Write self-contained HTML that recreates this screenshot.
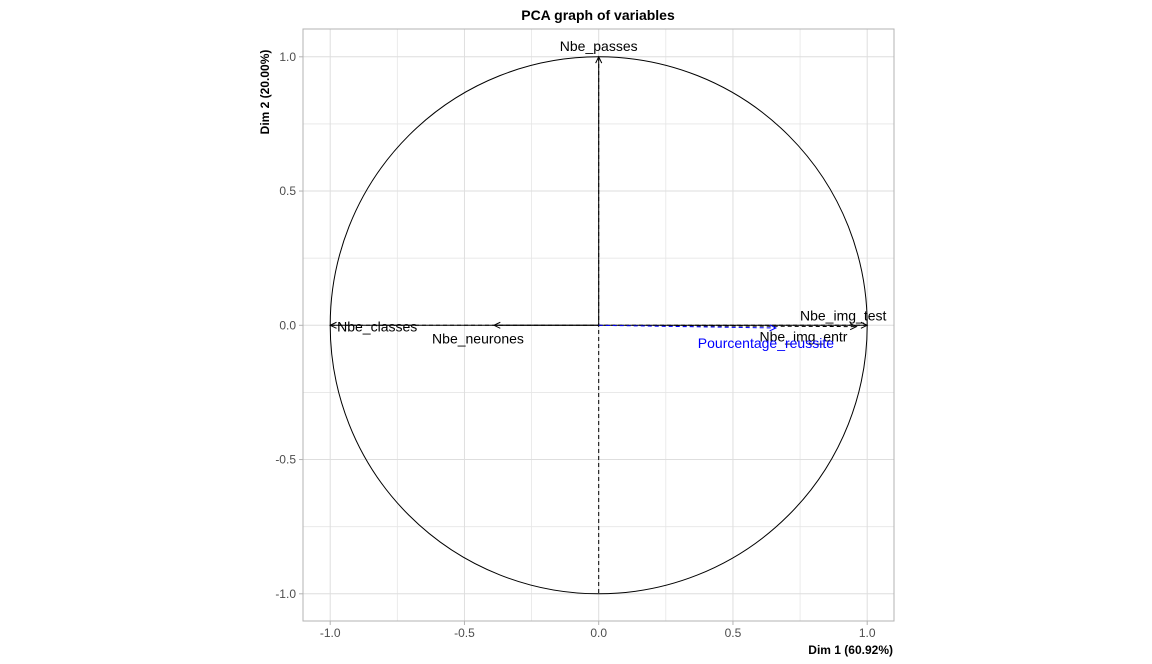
<!DOCTYPE html>
<html><head><meta charset="utf-8"><style>
html,body{margin:0;padding:0;background:#fff;width:1152px;height:664px;overflow:hidden}
svg{display:block;font-family:"Liberation Sans",Arial,sans-serif}
</style></head><body>
<svg id="chart" width="1152" height="664">
<text x="598" y="20" text-anchor="middle" font-size="14" font-weight="bold" fill="#000">PCA graph of variables</text>
<text x="893" y="654" text-anchor="end" font-size="12" font-weight="bold" fill="#000">Dim 1 (60.92%)</text>
<text transform="translate(269,92) rotate(-90)" text-anchor="middle" font-size="12" font-weight="bold" fill="#000">Dim 2 (20.00%)</text>
<g id="grid"></g><g id="marks"></g><g id="labels"></g>
</svg>
<script>
const varNames = ["Nbe_passes","Nbe_classes","Nbe_neurones","Nbe_img_test","Nbe_img_entr","Pourcentage_reussite"];
const dim1 = [0.0, -1.0, -0.39, 1.0, 0.96, 0.66];
const dim2 = [1.0, 0.0, 0.0, 0.0, -0.005, -0.01];
const varColors = ["#000","#000","#000","#000","#000","#0000ff"];
const varDash = [false,false,false,false,true,true];
const labelDx = [0, 47, -16, -24, -53, -10];
const labelDy = [-6, 6, 18, -5, 15, 20];
const tickValues = [-1.0,-0.5,0.0,0.5,1.0];
const tickLabels = ["-1.0","-0.5","0.0","0.5","1.0"];
const minorValues = [-0.75,-0.25,0.25,0.75];

const NS="http://www.w3.org/2000/svg";
const L=303,R=894,T=29,B=621,cx=598.7,cy=325.3,k=268.5;
const sx=v=>cx+v*k, sy=v=>cy-v*k;
function mk(tag,attrs,parent){const e=document.createElementNS(NS,tag);for(const a in attrs)e.setAttribute(a,attrs[a]);parent.appendChild(e);return e;}
const grid=document.getElementById('grid'),marks=document.getElementById('marks'),labels=document.getElementById('labels');
minorValues.forEach(v=>{
 const a=mk('line',{x1:sx(v),x2:sx(v),y1:T,y2:B,stroke:'#e6e6e6','stroke-width':0.8},grid);
 
 
 const b=mk('line',{x1:L,x2:R,y1:sy(v),y2:sy(v),stroke:'#e6e6e6','stroke-width':0.8},grid);
 
 
});
tickValues.forEach((v,i)=>{
 const a=mk('line',{x1:sx(v),x2:sx(v),y1:T,y2:B,stroke:'#dedede','stroke-width':1},grid);
 
 
 const b=mk('line',{x1:L,x2:R,y1:sy(v),y2:sy(v),stroke:'#dedede','stroke-width':1},grid);
 
 
 mk('line',{x1:sx(v),x2:sx(v),y1:B,y2:B+4,stroke:'#b3b3b3'},grid);
 mk('line',{x1:L-4,x2:L,y1:sy(v),y2:sy(v),stroke:'#b3b3b3'},grid);
 const tx=mk('text',{x:sx(v),y:B+16,'text-anchor':'middle','font-size':12,fill:'#4d4d4d'},grid);
 tx.textContent=tickLabels[i];
 
 
 const ty=mk('text',{x:L-7,y:sy(v)+4,'text-anchor':'end','font-size':12,fill:'#4d4d4d'},grid);
 ty.textContent=tickLabels[i];
 
 
});
const frame=mk('rect',{x:L,y:T,width:R-L,height:B-T,fill:'none',stroke:'#b3b3b3','stroke-width':1},grid);


const hl=mk('line',{x1:L,x2:R,y1:cy,y2:cy,stroke:'#000','stroke-dasharray':'4,3'},marks);


const vl=mk('line',{x1:cx,x2:cx,y1:T,y2:B,stroke:'#000','stroke-dasharray':'4,3'},marks);


const c=mk('circle',{cx:cx,cy:cy,r:k,fill:'none',stroke:'#000','stroke-width':1},marks);


const cp=mk('clipPath',{id:'cc'},marks);mk('circle',{cx:cx,cy:cy,r:k},cp);
hl.setAttribute('clip-path','url(#cc)');vl.setAttribute('clip-path','url(#cc)');
varNames.forEach((n,i)=>{
 const x2=sx(dim1[i]),y2=sy(dim2[i]),col=varColors[i];
 const ln=mk('line',{x1:cx,y1:cy,x2:x2,y2:y2,stroke:col,'stroke-width':1},marks);
 if(varDash[i])ln.setAttribute('stroke-dasharray','4,3');
 
 
 const ang=Math.atan2(y2-cy,x2-cx),h=7,w=0.45;
 const p1=[x2-h*Math.cos(ang-w),y2-h*Math.sin(ang-w)],p2=[x2-h*Math.cos(ang+w),y2-h*Math.sin(ang+w)];
 const hd=mk('polyline',{points:`${p1[0]},${p1[1]} ${x2},${y2} ${p2[0]},${p2[1]}`,fill:'none',stroke:col,'stroke-width':1},marks);
 
 
 const t=mk('text',{x:x2+labelDx[i],y:y2+labelDy[i],'text-anchor':'middle','font-size':14,fill:col},labels);
 t.textContent=n;
 
 
});
</script>
</body></html>
